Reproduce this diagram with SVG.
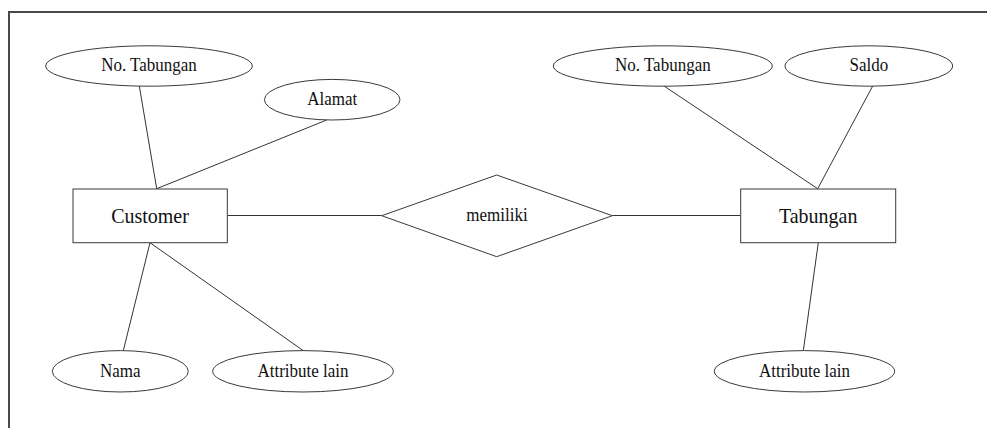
<svg xmlns="http://www.w3.org/2000/svg" width="987" height="428" viewBox="0 0 987 428">
  <style>
    .frame { fill: none; stroke: #4a4a4a; stroke-width: 2; }
    .shape { fill: #ffffff; stroke: #3a3a3a; stroke-width: 1; }
    .link { fill: none; stroke: #333333; stroke-width: 1; }
    .attr { font-size: 17px; fill: #111111; text-anchor: middle; }
    .ent { font-size: 20px; fill: #111111; text-anchor: middle; }
  </style>
  <rect width="987" height="428" fill="#ffffff"/>
  <!-- outer frame: only top and left edges fall inside the canvas -->
  <path class="frame" d="M9,430 L9,12 L990,12"/>

  <g id="connectors">
    <line class="link" x1="139.3" y1="86" x2="156.7" y2="188.7"/>
    <line class="link" x1="326.7" y1="120" x2="156.7" y2="188.7"/>
    <line class="link" x1="150" y1="242.7" x2="123.3" y2="350.7"/>
    <line class="link" x1="150" y1="242.7" x2="303.3" y2="350.7"/>
    <line class="link" x1="227.3" y1="215.5" x2="381.7" y2="215.5"/>
    <line class="link" x1="612.3" y1="215.5" x2="740.7" y2="215.5"/>
    <line class="link" x1="664" y1="86" x2="817.7" y2="188.7"/>
    <line class="link" x1="872.7" y1="86" x2="817.7" y2="188.7"/>
    <line class="link" x1="818.3" y1="242.7" x2="803.3" y2="350.7"/>
  </g>

  <g id="nodes" font-family="Liberation Serif, serif">
    <g id="customer">
      <rect class="shape" x="73" y="189" width="154.3" height="53.7"/>
      <text class="ent" transform="translate(150 222.7) scale(1 1.1)">Customer</text>
    </g>
    <g id="attr-customer-no-tabungan">
      <ellipse class="shape" cx="149" cy="66" rx="103.3" ry="20.2"/>
      <text class="attr" transform="translate(149 71.3) scale(1 1.08)">No. Tabungan</text>
    </g>
    <g id="attr-alamat">
      <ellipse class="shape" cx="332.2" cy="99.7" rx="67.8" ry="20.3"/>
      <text class="attr" transform="translate(332.2 105) scale(1 1.08)">Alamat</text>
    </g>
    <g id="attr-nama">
      <ellipse class="shape" cx="120.3" cy="371.3" rx="68" ry="20.7"/>
      <text class="attr" transform="translate(120.3 376.6) scale(1 1.08)">Nama</text>
    </g>
    <g id="attr-customer-lain">
      <ellipse class="shape" cx="303" cy="371.3" rx="90.3" ry="20.7"/>
      <text class="attr" transform="translate(303 376.6) scale(1 1.08)">Attribute lain</text>
    </g>

    <g id="memiliki">
      <polygon class="shape" points="381.7,215.7 496.7,175 612.3,215.7 496.7,256.7"/>
      <text class="attr" transform="translate(497 221.3) scale(1 1.08)">memiliki</text>
    </g>

    <g id="tabungan">
      <rect class="shape" x="740.7" y="189" width="155" height="53.7"/>
      <text class="ent" transform="translate(818.2 222.7) scale(1 1.1)">Tabungan</text>
    </g>
    <g id="attr-tabungan-no-tabungan">
      <ellipse class="shape" cx="662.8" cy="66" rx="109.5" ry="20.2"/>
      <text class="attr" transform="translate(662.8 71.3) scale(1 1.08)">No. Tabungan</text>
    </g>
    <g id="attr-saldo">
      <ellipse class="shape" cx="868.8" cy="66" rx="83.8" ry="20.2"/>
      <text class="attr" transform="translate(868.8 71.3) scale(1 1.08)">Saldo</text>
    </g>
    <g id="attr-tabungan-lain">
      <ellipse class="shape" cx="804.5" cy="371.3" rx="90.2" ry="20.7"/>
      <text class="attr" transform="translate(804.5 376.6) scale(1 1.08)">Attribute lain</text>
    </g>
  </g>
</svg>
